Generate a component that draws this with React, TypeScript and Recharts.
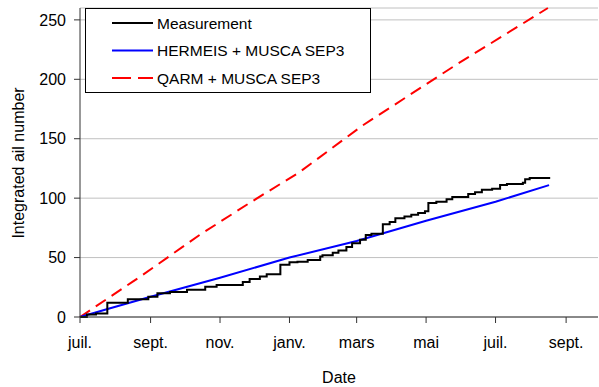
import { LineChart, Line, XAxis, YAxis, CartesianGrid, Legend, Label } from "recharts";

// x values are days counted from 1 July
const monthDays = [0, 62, 123, 184, 243, 304, 365, 427];
const monthLabels = ["juil.", "sept.", "nov.", "janv.", "mars", "mai", "juil.", "sept."];
const yTicks = [0, 50, 100, 150, 200, 250];

const measDays = [
  0, 6, 14, 24, 42, 60, 68, 79, 94, 110, 120, 143, 149, 158, 164, 176, 184, 191, 200,
  211, 213, 222, 227, 234, 239, 246, 251, 256, 266, 272, 277, 285, 291, 297, 303, 306,
  313, 322, 327, 341, 347, 353, 362, 369, 375, 389, 391, 395, 413,
];
const measValues = [
  0, 2, 3, 12, 15, 17, 20, 21, 23, 25.5, 27, 29.5, 32, 34, 36, 44, 46, 46.5, 48,
  51, 52, 54, 56, 59, 62, 65, 69, 70, 78, 80, 83, 84.5, 86, 87.5, 89, 96,
  97, 99, 101, 103.5, 105, 107, 108, 111, 112, 113, 116, 117, 117,
];

const hermeisDays = [0, 25, 62, 123, 184, 243, 304, 365, 412];
const hermeisValues = [0, 7, 17, 33, 50, 64, 81, 97, 111];

const qarmDays = [0, 46, 53, 105, 149, 193, 248, 330, 411];
const qarmValues = [0, 29.5, 34, 69, 96, 122, 161, 212, 260];

const seriesNames = ["Measurement", "HERMEIS + MUSCA SEP3", "QARM + MUSCA SEP3"];
const seriesColors = ["#000000", "#0000ff", "#ff0000"];

const toRows = (days: number[], values: number[]) =>
  days.map((d, i) => ({ day: d, value: values[i] }));

const measData = toRows(measDays, measValues);
const hermeisData = toRows(hermeisDays, hermeisValues);
const qarmData = toRows(qarmDays, qarmValues);

const font = "'Liberation Sans', Arial, sans-serif";

const LegendBox = () => (
  <svg width={286} height={85} style={{ display: "block" }}>
    <rect x={0.5} y={0.5} width={285} height={84} fill="#fff" stroke="#000" />
    {seriesNames.map((name, i) => {
      const cy = 15 + i * 27.5;
      return (
        <g key={name}>
          <line
            x1={27}
            x2={68}
            y1={cy}
            y2={cy}
            stroke={seriesColors[i]}
            strokeWidth={2}
            strokeDasharray={i === 2 ? "19 7" : undefined}
          />
          <text x={72} y={cy} dominantBaseline="central" fontSize={15.5} fill="#000" fontFamily={font}>
            {name}
          </text>
        </g>
      );
    })}
  </svg>
);

const YLabel = () => (
  <text
    x={18}
    y={163}
    transform="rotate(-90, 18, 163)"
    textAnchor="middle"
    dominantBaseline="central"
    fontSize={16}
    fill="#000"
    fontFamily={font}
  >
    Integrated ail number
  </text>
);

export default function App() {
  return (
    <div style={{ position: "absolute", left: 0, top: 0, width: 599, height: 387, background: "#fff", fontFamily: font }}>
      <LineChart width={599} height={387} margin={{ top: 8, right: 1, bottom: 0, left: 0 }}>
        <CartesianGrid vertical={false} stroke="#c0c0c0" />
        <XAxis
          type="number"
          dataKey="day"
          domain={[0, 455]}
          ticks={monthDays}
          tickFormatter={(v: number) => monthLabels[monthDays.indexOf(v)] ?? ""}
          height={70}
          tickSize={6}
          tickMargin={14}
          axisLine={{ stroke: "#333" }}
          tickLine={{ stroke: "#333" }}
          tick={{ fill: "#000", fontSize: 16, fontFamily: font }}
          allowDuplicatedCategory={false}
        >
          <Label value="Date" position="insideBottom" offset={4} style={{ fill: "#000", fontSize: 16, fontFamily: font }} />
        </XAxis>
        <YAxis
          type="number"
          domain={[0, 260]}
          ticks={yTicks}
          width={80}
          tickSize={6}
          tickMargin={8}
          axisLine={{ stroke: "#333" }}
          tickLine={{ stroke: "#333" }}
          tick={{ fill: "#000", fontSize: 16, fontFamily: font }}
        >
          <Label content={<YLabel />} />
        </YAxis>
        <Legend
          layout="vertical"
          align="center"
          verticalAlign="middle"
          wrapperStyle={{ left: 85, top: 8, width: 286, height: 85 }}
          content={<LegendBox />}
        />
        <Line data={qarmData} dataKey="value" name={seriesNames[2]} type="linear" stroke={seriesColors[2]} strokeWidth={2} strokeDasharray="12 7" dot={false} isAnimationActive={false} />
        <Line data={hermeisData} dataKey="value" name={seriesNames[1]} type="linear" stroke={seriesColors[1]} strokeWidth={2} dot={false} isAnimationActive={false} />
        <Line data={measData} dataKey="value" name={seriesNames[0]} type="stepAfter" stroke={seriesColors[0]} strokeWidth={2} dot={false} isAnimationActive={false} />
      </LineChart>
    </div>
  );
}
